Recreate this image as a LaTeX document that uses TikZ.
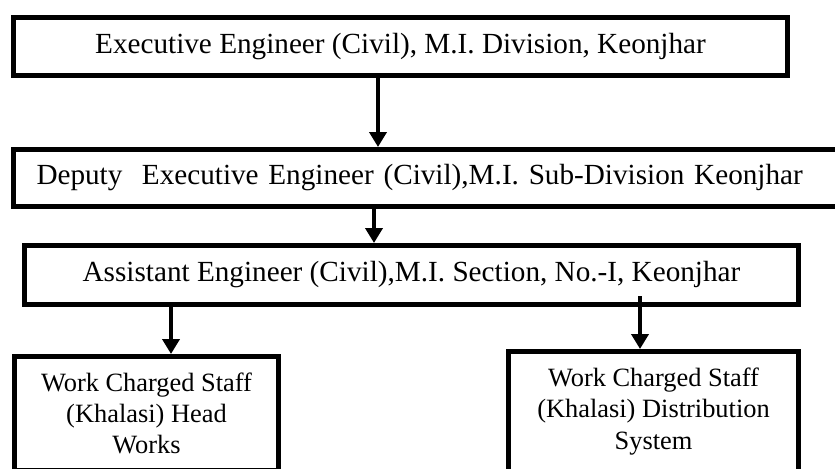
\documentclass[tikz,border=0pt]{standalone}
\usepackage{fontspec}
\setmainfont{Liberation Serif}
\usepackage{tikz}
\usetikzlibrary{arrows.meta,positioning,calc}

\tikzset{
  post/.style={draw, line width=2.5pt, fill=white, inner sep=0pt,
    font=\fontsize{14.6}{17}\selectfont},
  staff/.style={post, align=center, font=\fontsize{13.2}{15.65}\selectfont},
}

\begin{document}
\begin{tikzpicture}[>={Triangle[width=8.5pt,length=7.5pt]}, line width=2pt]
  \useasboundingbox (0,0) rectangle (417.5pt,234pt);

  \node[post, anchor=north west, minimum width=387pt, minimum height=29pt] (ee) at (5.5pt,226.5pt)
    {Executive Engineer (Civil), M.I. Division, Keonjhar};
  \node[post, text width=393pt, align=left, inner xsep=11.5pt, minimum height=28.5pt] (dee)
    [below right=34.5pt and 0pt of ee.south west]
    {Deputy\ \ Executive Engineer (Civil),M.I. Sub-Division Keonjhar};
  \node[post, minimum width=387pt, minimum height=29.5pt] (ae)
    [below right=17pt and 5.5pt of dee.south west]
    {Assistant Engineer (Civil),M.I. Section, No.-I, Keonjhar};
  \node[staff, minimum width=132pt, minimum height=57pt] (hw)
    [below right=23.5pt and -5pt of ae.south west]
    {Work Charged Staff\\(Khalasi) Head\\Works};
  \node[staff, minimum width=145pt, minimum height=60pt] (ds)
    [below left=21pt and 0pt of ae.south east]
    {Work Charged Staff\\(Khalasi) Distribution\\System};

  \path[->]
    ([xshift=-11.25pt]ee.south) edge ([xshift=-11.25pt]ee.south |- dee.north)
    ($(ae.north |- dee.south)+(-18.75pt,0)$) edge ([xshift=-18.75pt]ae.north)
    ($(hw.north |- ae.south)+(12.25pt,0)$) edge ([xshift=12.25pt]hw.north)
    ($(ds.north |- ae.south)+(-6.75pt,5.5pt)$) edge ([xshift=-6.75pt]ds.north);
\end{tikzpicture}
\end{document}
